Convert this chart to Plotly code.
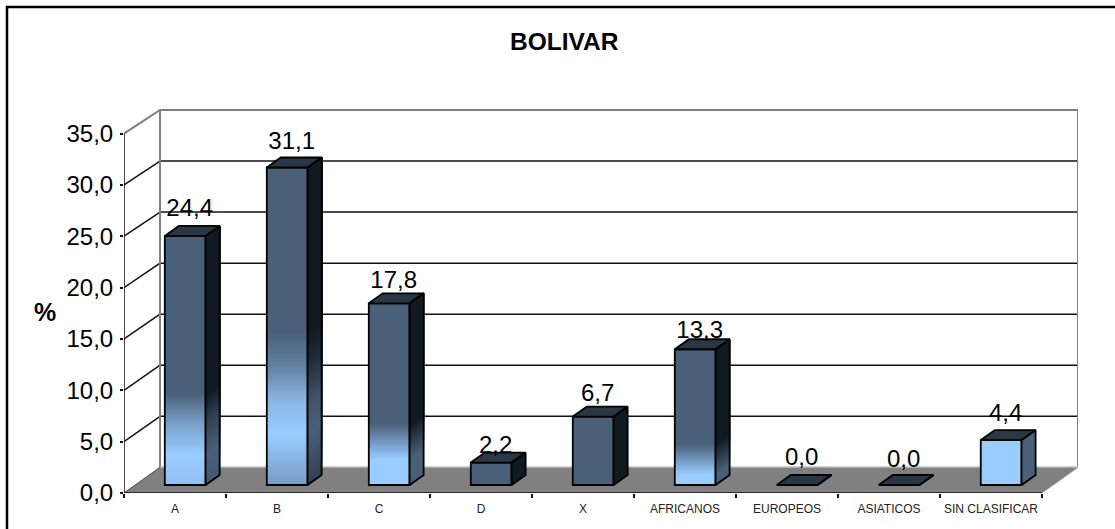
import plotly.graph_objects as go

categories = ["A", "B", "C", "D", "X", "AFRICANOS", "EUROPEOS", "ASIATICOS", "SIN CLASIFICAR"]
values = [24.4, 31.1, 17.8, 2.2, 6.7, 13.3, 0.0, 0.0, 4.4]
y_ticks = [0, 5, 10, 15, 20, 25, 30, 35]

# gradient stops for each bar: (height in value units, lightness 0=dark 1=light)
gradients = [
    [(0, 0.9), (3, 1), (6, 0.6), (9, 0), (99, 0)],
    [(0, 0.55), (5, 1), (8.3, 0.8), (11.6, 0.3), (15, 0), (99, 0)],
    [(0, 1), (2.5, 1), (6, 0), (99, 0)],
    [(0, 0), (99, 0)],
    [(0, 0), (99, 0)],
    [(0, 1), (1, 1), (4, 0), (99, 0)],
    [(0, 0), (99, 0)],
    [(0, 0), (99, 0)],
    [(0, 1), (99, 1)],
]
label_rise_px = [26, 25, 21, 16, 22, 17, 26, 24, 25]

PX_X = 101.9
PX_Y = 10.27
DX, DY = 36 / PX_X, 2.5
BX, BY = 14 / PX_X, 10 / PX_Y
BASE = 8 / PX_Y
SCALE = 0.994
BAR_L, BAR_W = 0.4, 0.4
FONT = "Liberation Sans"


def mix(a, b, t):
    return "rgb(%d,%d,%d)" % tuple(round(p + (q - p) * t) for p, q in zip(a, b))


FRONT_DARK, FRONT_LIGHT = (74, 96, 121), (153, 204, 255)
SIDE_DARK, SIDE_LIGHT = (18, 26, 33), (74, 96, 121)


def light_at(stops, v):
    for (v0, t0), (v1, t1) in zip(stops, stops[1:]):
        if v0 <= v <= v1:
            return t0 + (t1 - t0) * (v - v0) / (v1 - v0)
    return stops[-1][1]


def slices(stops, val, step=0.2):
    """merge height bands with the same lightness"""
    out = []
    v = 0.0
    while v < val - 1e-9:
        w = min(v + step, val)
        t = round(light_at(stops, (v + w) / 2), 2)
        if out and out[-1][2] == t:
            out[-1][1] = w
        else:
            out.append([v, w, t])
        v = w
    return out


def line(xs, ys, color, width, top=False):
    return go.Scatter(x=xs, y=ys, mode="lines", line=dict(color=color, width=width),
                      hoverinfo="skip", showlegend=False, cliponaxis=False,
                      xaxis="x2" if top else "x", yaxis="y2" if top else "y")


def poly(xs, ys, fill, lcolor=None, lwidth=0, top=False):
    return go.Scatter(x=xs + xs[:1], y=ys + ys[:1], mode="lines", fill="toself", fillcolor=fill,
                      line=dict(color=lcolor or fill, width=lwidth or 0.6),
                      hoverinfo="skip", showlegend=False, cliponaxis=False,
                      xaxis="x2" if top else "x", yaxis="y2" if top else "y")


fig = go.Figure()
n = len(categories)

# walls and floor on the lower axes
fig.add_trace(poly([0, DX, n + DX, n], [0, DY, DY, 0], "#808080"))
for v in y_ticks[1:-1]:
    by = DY + v * SCALE
    fig.add_trace(line([DX, n + DX], [by, by], "#111111", 1.5))
    fig.add_trace(line([0, DX], [v, by], "#111111", 1.5))
top = DY + y_ticks[-1] * SCALE
fig.add_trace(line([0, DX, n + DX, n + DX], [y_ticks[-1], top, top, DY], "#808080", 2))
fig.add_trace(line([DX, DX], [DY, top], "#808080", 2))
fig.add_trace(line([DX, n + DX], [DY, DY], "#b0b0b0", 1.5))
fig.add_trace(line([0, DX], [0, DY], "#555555", 1))
fig.add_trace(line([0, 0, n], [y_ticks[-1], 0, 0], "#111111", 1.5))

# bars on the overlaying axes: sides, top and front
bar_x, bar_base, bar_h, bar_col = [], [], [], []
for i, (val, stops) in enumerate(zip(values, gradients)):
    xl = i + BAR_L
    xr = xl + BAR_W
    yt = BASE + val * SCALE
    for v0, v1, t in slices(stops, val):
        y0 = BASE + v0 * SCALE
        fig.add_trace(poly([xr, xr + BX, xr + BX, xr], [y0, y0 + BY, yt + BY, yt],
                           mix(SIDE_DARK, SIDE_LIGHT, t), top=True))
        bar_x.append(xl + BAR_W / 2)
        bar_base.append(y0)
        bar_h.append(yt - y0)
        bar_col.append(mix(FRONT_DARK, FRONT_LIGHT, t))
    fig.add_trace(poly([xl, xl + BX, xr + BX, xr], [yt, yt + BY, yt + BY, yt], "#2a3846", "#000000", 1.8, top=True))
    fig.add_trace(line([xr, xr + BX, xr + BX, xr, xr], [BASE, BASE + BY, yt + BY, yt, BASE], "#000000", 1.8, top=True))

fig.add_trace(go.Bar(x=bar_x, y=bar_h, base=bar_base, width=BAR_W, xaxis="x2", yaxis="y2",
                     marker=dict(color=bar_col, line=dict(width=0)),
                     hoverinfo="skip", showlegend=False))
fig.add_trace(go.Bar(x=[i + BAR_L + BAR_W / 2 for i in range(n)], y=[v * SCALE for v in values], base=BASE,
                     width=BAR_W, xaxis="x2", yaxis="y2",
                     marker=dict(color="rgba(0,0,0,0)", line=dict(color="#000000", width=1.8)),
                     hoverinfo="skip", showlegend=False))

# data labels
fig.add_trace(go.Scatter(
    x=[i + 0.6 + 4.5 / PX_X for i in range(n)],
    y=[BASE + v * SCALE + r / PX_Y for v, r in zip(values, label_rise_px)],
    mode="text", text=[f"{v:.1f}".replace(".", ",") for v in values],
    textposition="middle center", textfont=dict(family=FONT, size=24, color="#000000"),
    hoverinfo="skip", showlegend=False, cliponaxis=False, xaxis="x2", yaxis="y2"))

W, H = 1115, 529
L, R, T, B = 124, 1078, 108, 493
fw, fh = R - L, B - T
px = lambda p: (p - L) / fw
py = lambda p: (B - p) / fh
x_range = [0, n + DX]
y_range = [0, fh / PX_Y]

fig.update_layout(
    width=W, height=H, margin=dict(l=L, r=W - R, t=T, b=H - B, pad=0),
    paper_bgcolor="white", plot_bgcolor="white", barmode="overlay", showlegend=False,
    separators=",.", font=dict(family=FONT, color="#000000"),
    xaxis=dict(range=x_range, tickvals=[i + 0.5 for i in range(n)], ticktext=categories,
               ticks="", showgrid=False, zeroline=False, showline=False,
               tickfont=dict(size=12, family=FONT, color="#222222"), ticklabelstandoff=7,
               minor=dict(tickvals=list(range(n + 1)), ticks="outside", ticklen=4, tickwidth=1.5,
                          tickcolor="#111111", showgrid=False)),
    yaxis=dict(range=y_range, tickvals=y_ticks, tickformat=".1f", ticks="outside", ticklen=3,
               tickwidth=1.5, tickcolor="#111111", showgrid=False, zeroline=False, showline=False,
               tickfont=dict(size=24, family=FONT), ticklabelstandoff=2),
    xaxis2=dict(range=x_range, overlaying="x", visible=False),
    yaxis2=dict(range=y_range, overlaying="y", visible=False),
    annotations=[
        dict(text="<b>BOLIVAR</b>", xref="paper", yref="paper", x=px(564), y=py(41.5), showarrow=False,
             font=dict(size=24.5, family=FONT), xanchor="center", yanchor="middle"),
        dict(text="<b>%</b>", xref="paper", yref="paper", x=px(45), y=py(312), showarrow=False,
             font=dict(size=25, family=FONT), xanchor="center", yanchor="middle"),
    ],
    shapes=[
        dict(type="line", xref="paper", yref="paper", x0=px(6), x1=px(1115), y0=py(7), y1=py(7),
             line=dict(color="#000000", width=2.5)),
        dict(type="line", xref="paper", yref="paper", x0=px(7), x1=px(7), y0=py(6), y1=py(529),
             line=dict(color="#000000", width=2.5)),
    ],
)

fig.write_html("out.html", config=dict(displayModeBar=False),
               post_script="document.body.style.margin='0';document.body.style.overflow='hidden';")
